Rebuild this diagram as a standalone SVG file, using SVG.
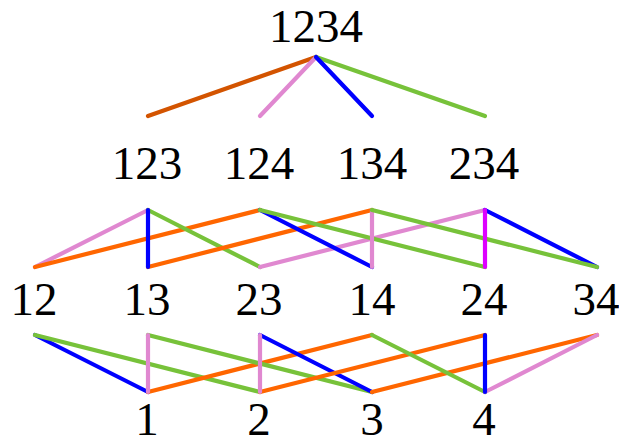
<svg xmlns="http://www.w3.org/2000/svg" width="619" height="446" viewBox="0 0 619 446">
<style>
text{font-family:"Liberation Serif","Times New Roman",serif;font-size:47px;fill:#000;text-anchor:middle}
line{stroke-width:4.2;stroke-linecap:round}
.o{stroke:#ff6600}.od{stroke:#d35400}.p{stroke:#e088d0}.b{stroke:#0000ff}.g{stroke:#77c23a}.m{stroke:#dd00ff}
</style>
<rect width="619" height="446" fill="#fff"/>
<g id="connectors">
<line class="od" x1="316" y1="57" x2="148" y2="116"/>
<line class="p" x1="316" y1="57" x2="260" y2="116"/>
<line class="g" x1="316" y1="57" x2="485" y2="116"/>
<line class="b" x1="316" y1="57" x2="372" y2="116"/>

<line class="p" x1="148" y1="210" x2="35" y2="267"/>
<line class="o" x1="35" y1="267" x2="260" y2="210"/>
<line class="g" x1="148" y1="210" x2="260" y2="267"/>
<line class="o" x1="148" y1="267" x2="372" y2="210"/>
<line class="b" x1="148" y1="210" x2="148" y2="267"/>
<line class="p" x1="260" y1="267" x2="485" y2="210"/>
<line class="b" x1="260" y1="210" x2="372" y2="267"/>
<line class="g" x1="260" y1="210" x2="485" y2="267"/>
<line class="p" x1="372" y1="210" x2="372" y2="267"/>
<line class="b" x1="485" y1="210" x2="597" y2="267"/>
<line class="g" x1="372" y1="210" x2="597" y2="267"/>
<line class="m" x1="485" y1="210" x2="485" y2="267"/>

<line class="b" x1="35" y1="335" x2="148" y2="392"/>
<line class="g" x1="35" y1="335" x2="260" y2="392"/>
<line class="o" x1="148" y1="392" x2="372" y2="335"/>
<line class="g" x1="148" y1="335" x2="372" y2="392"/>
<line class="p" x1="148" y1="335" x2="148" y2="392"/>
<line class="b" x1="260" y1="335" x2="372" y2="392"/>
<line class="o" x1="260" y1="392" x2="485" y2="335"/>
<line class="p" x1="260" y1="335" x2="260" y2="392"/>
<line class="o" x1="372" y1="392" x2="597" y2="335"/>
<line class="g" x1="372" y1="335" x2="485" y2="392"/>
<line class="p" x1="485" y1="392" x2="597" y2="335"/>
<line class="b" x1="485" y1="335" x2="485" y2="392"/>
</g>
<g id="n1234"><text x="316" y="42">1234</text></g>
<g id="n123"><text x="147" y="179">123</text></g>
<g id="n124"><text x="259" y="179">124</text></g>
<g id="n134"><text x="372" y="179">134</text></g>
<g id="n234"><text x="484" y="179">234</text></g>
<g id="n12"><text x="34" y="315">12</text></g>
<g id="n13"><text x="147" y="315">13</text></g>
<g id="n23"><text x="259" y="315">23</text></g>
<g id="n14"><text x="372" y="315">14</text></g>
<g id="n24"><text x="484" y="315">24</text></g>
<g id="n34"><text x="596" y="315">34</text></g>
<g id="n1"><text x="147" y="435">1</text></g>
<g id="n2"><text x="259" y="435">2</text></g>
<g id="n3"><text x="372" y="435">3</text></g>
<g id="n4"><text x="484" y="435">4</text></g>
</svg>
